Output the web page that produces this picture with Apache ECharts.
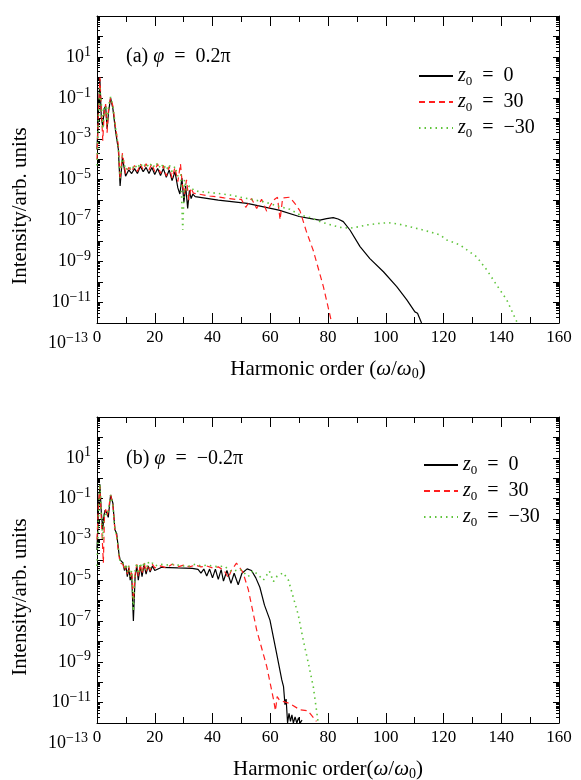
<!DOCTYPE html>
<html>
<head>
<meta charset="utf-8">
<title>Harmonic spectra</title>
<script src="https://cdn.jsdelivr.net/npm/echarts@6/dist/echarts.min.js"></script>
</head>
<body style="margin:0;background:#fff;">
<div id="main" style="width:581px;height:780px;"></div>
<script>
// series names and panel labels
var seriesNames = ['z0 = 0', 'z0 = 30', 'z0 = −30'];
var legendText = ['{i|z}{sub|0}{n|\u2002=\u20020}', '{i|z}{sub|0}{n|\u2002=\u200230}', '{i|z}{sub|0}{n|\u2002=\u2002−30}'];
var panelLabels = ['(a) {i|φ}\u2002=\u20020.2π', '(b) {i|φ}\u2002=\u2002−0.2π'];
var xNames = ['Harmonic order ({i|ω}/{i|ω}{sub|0})', 'Harmonic order({i|ω}/{i|ω}{sub|0})'];
var yName = 'Intensity/arb. units';

// (a) phi = 0.2pi  -- [harmonic order, intensity]
var aZ0 = [[0,3e-4],[0.5,2e-2],[1,8e-1],[1.5,1e-2],[2,4e-3],[2.5,3e-2],[3,4e-2],[3.5,3e-3],[4,2e-2],[4.7,1e-1],[5.5,3e-2],[6.5,2e-3],[7.4,3e-4],[8,5e-6],[8.8,1.2e-4],[9.9,1.5e-5],[11,3e-5],[12,2e-5],[13,3.5e-5],[14,2e-5],[15,4.5e-5],[16,2.5e-5],[17,4e-5],[18,2e-5],[19,4e-5],[20,1.8e-5],[21,3.5e-5],[22,1.6e-5],[23,3.5e-5],[24,1.3e-5],[25,3e-5],[26,9e-6],[27,2.5e-5],[28,4e-6],[28.7,2e-6],[29.4,1.2e-5],[30.1,8e-7],[30.7,5e-6],[31.4,4e-7],[32,3e-6],[32.6,1.2e-6],[33.2,2e-6],[34,1.5e-6],[42,1e-6],[52,7e-7],[63,3.3e-7],[70,1.6e-7],[75,1.2e-7],[77.2,1.07e-7],[79.5,1.25e-7],[81.8,1.4e-7],[83.5,1.2e-7],[85.3,9e-8],[87.6,3.5e-8],[91.1,5.4e-9],[94.5,1.4e-9],[99.2,3.2e-10],[103.8,6e-11],[107.3,1.35e-11],[110.1,3.5e-12],[111,3e-12],[112.4,1e-12]];
var aZ30 = [[0,1e-4],[0.5,2e-2],[1,1.0],[1.5,3e-2],[2,8e-4],[2.5,2e-2],[3,5e-2],[3.5,2e-3],[4,3e-2],[4.7,1e-1],[5.5,4e-2],[6.5,3e-3],[7.4,5e-4],[8,1e-5],[8.8,2e-4],[9.9,2e-5],[11,4e-5],[12,2.5e-5],[13,5e-5],[14,2.5e-5],[15,6e-5],[16,3e-5],[17,6e-5],[18,3e-5],[19,6e-5],[20,2.5e-5],[21,6e-5],[22,2e-5],[23,5e-5],[24,1.5e-5],[25,4.5e-5],[26,1.2e-5],[27,4e-5],[28,8e-6],[28.9,6e-5],[29.6,5e-6],[30.3,2e-6],[31,1e-5],[31.8,1e-6],[32.5,4e-6],[33.4,2.2e-6],[36,1.9e-6],[39,1.6e-6],[41,1.5e-6],[44,1.3e-6],[46,1.2e-6],[48,1.1e-6],[50,1.1e-6],[51.5,4.5e-7],[53.5,1.2e-6],[55.3,4e-7],[57,1.1e-6],[58.8,2.8e-7],[61.1,1e-6],[62.5,1.4e-6],[63.4,1.1e-7],[64.3,1.3e-6],[66.8,1.4e-6],[68.5,7e-7],[70.3,3e-7],[72.5,3e-8],[74.9,3.5e-9],[78.4,6e-11],[81.3,1e-12]];
var aZm30 = [[0,5e-5],[0.5,1e-2],[1,3e-1],[1.5,5e-2],[2,3e-3],[2.5,3e-2],[3,4e-2],[3.5,5e-3],[4,4e-2],[4.7,1.1e-1],[5.5,4e-2],[6.5,3e-3],[7.4,4e-4],[8,1.2e-5],[8.8,1.5e-4],[9.9,3e-5],[11,4.5e-5],[12,3e-5],[13,5.5e-5],[14,3.5e-5],[15,6.5e-5],[16,4e-5],[17,6.5e-5],[18,4e-5],[19,6.5e-5],[20,4e-5],[21,6.5e-5],[22,3.5e-5],[23,6e-5],[24,3e-5],[25,5.5e-5],[26,2.5e-5],[27,4.5e-5],[28,1.5e-5],[29,2e-5],[29.7,3.5e-8],[30.3,1e-5],[31,3e-6],[32,5e-6],[33.9,2.8e-6],[40,2.3e-6],[46.1,1.8e-6],[52,1.2e-6],[57.6,8.5e-7],[63.4,4.8e-7],[66.8,3.6e-7],[70.3,1.9e-7],[74,1.4e-7],[77.2,9e-8],[80.5,6.5e-8],[84.2,4.7e-8],[87.6,4.3e-8],[90.5,5e-8],[93.4,6.2e-8],[98,7.4e-8],[101,8e-8],[104.9,6.6e-8],[108.5,5e-8],[111.9,3.8e-8],[115.5,2.8e-8],[118.8,2e-8],[121.1,1.15e-8],[125.7,6.5e-9],[131.5,1.7e-9],[135,3.9e-10],[138.4,7.2e-11],[141.9,1.35e-11],[145.1,1.4e-12],[145.6,1e-12]];

// (b) phi = -0.2pi
var bZ0 = [[0,3e-4],[0.5,3e-2],[1,5e-1],[1.5,2e-2],[2,3e-3],[2.4,1.5e-2],[2.8,2.7e-2],[3.4,2e-2],[3.9,1.2e-2],[4.7,1.5e-1],[5.5,6e-2],[6.2,3e-3],[6.8,2e-3],[7.6,2e-4],[8,1e-4],[9,7e-5],[9.5,3e-5],[10,5e-5],[10.5,1.5e-5],[11,4e-5],[11.5,1e-5],[12,2e-5],[12.6,1e-7],[13.2,1.5e-5],[13.8,5e-5],[14.3,1e-5],[15,5e-5],[15.6,1.5e-5],[16.3,6e-5],[17,2e-5],[17.7,5e-5],[18.4,2.5e-5],[19.2,5e-5],[20,3e-5],[22.4,4.3e-5],[28,4e-5],[33,3.8e-5],[35,3.4e-5],[36,2.2e-5],[37,3.5e-5],[38,1.6e-5],[39,3.5e-5],[40,1.3e-5],[41,3.5e-5],[42,1.1e-5],[43,3.3e-5],[43.8,9e-6],[45,3e-5],[46.4,7e-6],[47.5,2.2e-5],[48.9,6e-6],[50.2,2.2e-5],[52,3.6e-5],[53.5,3e-5],[55,1.3e-5],[56.4,4.5e-6],[58,6e-7],[59.9,1.1e-7],[62.2,2.6e-9],[64,1.3e-10],[64.6,6e-11],[65.1,8e-12],[65.5,1.5e-11],[66,1e-12],[66.5,3e-12],[67,1.2e-12],[67.5,2.5e-12],[68,1e-12],[68.6,2e-12],[69.2,1e-12],[69.8,1.8e-12],[70.4,1e-12],[71,1.4e-12]];
var bZ30 = [[0,1e-3],[0.5,5e-2],[1,4e-1],[1.5,1e-2],[2.2,7e-5],[2.6,1.5e-2],[3,3e-2],[3.5,1.5e-2],[4,3e-2],[4.7,1.5e-1],[5.5,5e-2],[6.2,3e-3],[6.8,1.5e-3],[7.5,2e-4],[8,7e-5],[9,6e-5],[9.5,3e-5],[10,5e-5],[10.5,2e-5],[11,5e-5],[11.5,1.5e-5],[12,3e-5],[12.6,1e-6],[13.2,2e-5],[13.8,6e-5],[14.3,1.5e-5],[15,6e-5],[15.6,2e-5],[16.3,7e-5],[17,2.5e-5],[17.7,6e-5],[18.4,3e-5],[19.2,6e-5],[20,4e-5],[22,5e-5],[24,4e-5],[26,6e-5],[28,4.5e-5],[30,5.5e-5],[32,4.5e-5],[34,5.5e-5],[36,4.5e-5],[38,5e-5],[40,4e-5],[42,4.5e-5],[44,3e-5],[45.5,1.3e-5],[46.5,3e-5],[48.3,6.8e-5],[50.5,2.5e-5],[52.4,3.5e-6],[55.3,3.6e-8],[58.8,5.8e-10],[61.1,1.5e-11],[61.8,4e-12],[62.4,2e-11],[63.2,1.3e-11],[66.8,9e-12],[70.3,4.4e-12],[73,4e-12],[76,1.2e-12]];
var bZm30 = [[0,5e-5],[0.5,1e-2],[1,5e-1],[1.5,2e-2],[2,1e-3],[2.5,2e-2],[3,2.5e-2],[3.5,1.5e-2],[4,3e-2],[4.7,1.5e-1],[5.5,5e-2],[6.2,3e-3],[6.8,1.5e-3],[7.5,3e-4],[8,8e-5],[9,7e-5],[9.5,4e-5],[10,6e-5],[10.5,2.5e-5],[11,5e-5],[11.5,1.5e-5],[12,3e-5],[12.6,3e-7],[13.2,3e-5],[13.8,7e-5],[14.3,2e-5],[15,7e-5],[15.6,3e-5],[16.3,8e-5],[17,3e-5],[17.7,8e-5],[18.4,4e-5],[19.2,7e-5],[20,5e-5],[22,6e-5],[24,5.5e-5],[26,6e-5],[28,5.5e-5],[30,5e-5],[32,5e-5],[34,6e-5],[36,5e-5],[38,5.5e-5],[40,5e-5],[42,4.5e-5],[44,5e-5],[46.6,2.6e-5],[49.5,3.5e-5],[52.4,1.5e-5],[54,3e-5],[55.9,1.8e-5],[57.6,1e-5],[59.7,2.8e-5],[61.1,8.5e-6],[62.4,1.6e-5],[64.5,2.3e-5],[66.3,1e-5],[67.4,2.8e-6],[69.7,2e-7],[71.4,1.2e-8],[73.2,8.5e-10],[74.9,6e-11],[76.1,3.5e-12],[76.6,1e-12]];

var font = 'Liberation Serif';
var lineColors = ['#000000', '#ff1f1f', '#5ec43a'];
var lineTypes = ['solid', [6, 4], [1.5, 4]];
var lineWidths = [1.2, 1.2, 1.6];

// minor tick positions of the log axis: 2..9 x 10^k
var minorTicks = [];
for (var k = -12; k < 3; k++) {
    for (var m = 2; m <= 9; m++) minorTicks.push(m * Math.pow(10, k));
}

var myChart = echarts.init(document.getElementById('main'));

var richLab = {
    b: {fontFamily: font, fontSize: 18, color: '#000', lineHeight: 24, verticalAlign: 'middle'},
    s: {fontFamily: font, fontSize: 14, color: '#000', lineHeight: 24, verticalAlign: 'top'},
    // lowest label sits next to the "0" of the x axis: keep a small gap
    s2: {fontFamily: font, fontSize: 14, color: '#000', lineHeight: 24, verticalAlign: 'top', padding: [0, 3, 0, 0]}
};
function expLabel(v) {
    var e = Math.round(Math.log10(v));
    if (e % 2 === 0 || e > 1) return '';
    var tag = e === -13 ? 's2' : 's';
    return '{b|10}{' + tag + '|' + (e < 0 ? '−' + (-e) : e) + '}';
}
var richText = {
    i: {fontFamily: font, fontStyle: 'italic', fontSize: 20, color: '#000', lineHeight: 24, verticalAlign: 'middle'},
    n: {fontFamily: font, fontSize: 20, color: '#000', lineHeight: 24, verticalAlign: 'middle'},
    sub: {fontFamily: font, fontSize: 13, color: '#000', lineHeight: 24, verticalAlign: 'bottom'}
};

// panel geometry
var panels = [{top: 16, height: 307}, {top: 417, height: 306}];

var grid = [], xAxis = [], yAxis = [], series = [], legend = [], title = [], graphic = [];
var data = [[aZ0, aZ30, aZm30], [bZ0, bZ30, bZm30]];
var black = {color: '#000', width: 1};

panels.forEach(function (p, pi) {
    var gi = grid.length;
    grid.push({left: 97, top: p.top, width: 462, height: p.height, outerBoundsMode: 'none', containLabel: false});
    // label grid: same scale, one decade lower
    grid.push({left: 97, top: p.top, width: 462, height: p.height * 16 / 15, outerBoundsMode: 'none', containLabel: false});

    var xb = xAxis.length;
    ['bottom', 'top'].forEach(function (pos) {
        xAxis.push({
            type: 'value', gridIndex: gi, position: pos, min: 0, max: 160, interval: 20,
            axisLine: {show: true, onZero: false, lineStyle: black},
            axisTick: {show: true, inside: true, length: 10, lineStyle: black},
            minorTick: {show: true, splitNumber: 2, length: 6, lineStyle: black},
            splitLine: {show: false},
            axisLabel: {show: pos === 'bottom', fontFamily: font, fontSize: 17, color: '#000', margin: 6},
            name: pos === 'bottom' ? xNames[pi] : '',
            nameLocation: 'middle', nameGap: 34,
            nameTextStyle: {fontFamily: font, fontSize: 21, color: '#000', rich: {
                i: {fontFamily: font, fontStyle: 'italic', fontSize: 21, color: '#000', lineHeight: 24, verticalAlign: 'middle'},
                sub: {fontFamily: font, fontSize: 14, color: '#000', lineHeight: 24, verticalAlign: 'bottom'}
            }}
        });
    });
    xAxis.push({type: 'value', gridIndex: gi + 1, min: 0, max: 160, show: false});

    var yb = yAxis.length;
    ['left', 'right'].forEach(function (pos) {
        yAxis.push({
            type: 'log', logBase: 10, gridIndex: gi, position: pos, min: 1e-12, max: 1e3, interval: 1,
            axisLine: {show: true, onZero: false, lineStyle: black},
            axisTick: {show: true, inside: true, length: 6, lineStyle: black},
            splitLine: {show: false},
            axisLabel: {show: false}
        });
    });
    ['left', 'right'].forEach(function (pos) {
        yAxis.push({
            type: 'log', logBase: 10, gridIndex: gi, position: pos, min: 1e-12, max: 1e3,
            axisLine: {show: false, onZero: false},
            axisTick: {show: true, inside: true, length: 3, customValues: minorTicks, lineStyle: black},
            splitLine: {show: false},
            axisLabel: {show: false}
        });
    });
    yAxis.push({
        type: 'log', logBase: 10, gridIndex: gi + 1, position: 'left', min: 1e-13, max: 1e3, interval: 1,
        axisLine: {show: false, onZero: false}, axisTick: {show: false}, splitLine: {show: false},
        axisLabel: {show: true, margin: 6, formatter: expLabel, rich: richLab, showMinLabel: true}
    });

    data[pi].forEach(function (d, si) {
        series.push({
            name: seriesNames[si], type: 'line', xAxisIndex: xb, yAxisIndex: yb,
            data: d, symbol: 'none', showSymbol: false, animation: false,
            lineStyle: {color: lineColors[si], width: lineWidths[si], type: lineTypes[si]},
            itemStyle: {color: lineColors[si]}
        });
    });

    legend.push({
        orient: 'vertical', left: pi === 0 ? 413 : 418, top: p.top + (pi === 0 ? 45 : 33),
        itemWidth: 34, itemHeight: 14, itemGap: 4,
        itemStyle: {opacity: 0},
        data: seriesNames,
        formatter: function (name) { return legendText[seriesNames.indexOf(name)]; },
        textStyle: {fontFamily: font, fontSize: 20, color: '#000', rich: richText}
    });

    title.push({
        text: panelLabels[pi], left: 121, top: pi === 0 ? 40 : 442,
        textStyle: {fontFamily: font, fontSize: 20, fontWeight: 'normal', color: '#000', rich: richText}
    });

    graphic.push({
        type: 'text', x: 20, y: pi === 0 ? 206 : 597, rotation: Math.PI / 2,
        style: {text: yName, font: '21px "Liberation Serif"', fill: '#000',
            textAlign: 'center', textVerticalAlign: 'middle', align: 'center', verticalAlign: 'middle'}
    });
});

var option = {
    animation: false,
    backgroundColor: '#fff',
    grid: grid, xAxis: xAxis, yAxis: yAxis,
    legend: legend, title: title, graphic: graphic,
    series: series
};
myChart.setOption(option);
</script>
</body>
</html>
